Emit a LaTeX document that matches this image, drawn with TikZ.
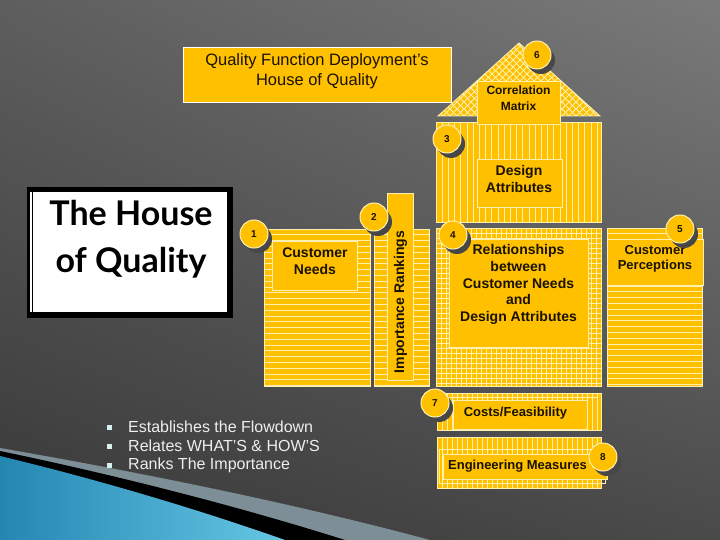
\documentclass[tikz,border=0pt]{standalone}
\usepackage{fontspec}
\setmainfont{Liberation Sans}
\newfontfamily\hqfont{Lato}
\usetikzlibrary{shadings}
\definecolor{qyel}{HTML}{FFC000}
\definecolor{qline}{HTML}{FFF0B0}
\definecolor{qtxt}{HTML}{1A1200}
\definecolor{bgUL}{HTML}{5E5E5E}
\definecolor{bgUR}{HTML}{7A7A7A}
\definecolor{bgLL}{HTML}{383838}
\definecolor{bgLR}{HTML}{4A4A4A}
\definecolor{swA}{HTML}{2387B2}
\definecolor{swB}{HTML}{66C6E4}
\definecolor{swG}{HTML}{7D8E96}
\definecolor{bultxt}{HTML}{EEEEEE}
\newcommand\qhstr[5]{%
  \fill[qyel] (#1,#2) rectangle (#3,#4);
  \begin{scope}\clip (#1,#2) rectangle (#3,#4);
    \foreach \k in {1,...,40}{\draw[stl] (#1,{#2+\k*#5}) -- (#3,{#2+\k*#5});}
  \end{scope}
  \draw[stl] (#1,#2) rectangle (#3,#4);}
\newcommand\qvstr[5]{%
  \fill[qyel] (#1,#2) rectangle (#3,#4);
  \begin{scope}\clip (#1,#2) rectangle (#3,#4);
    \foreach \k in {1,...,40}{\draw[stl] ({#1+\k*#5},#2) -- ({#1+\k*#5},#4);}
  \end{scope}
  \draw[stl] (#1,#2) rectangle (#3,#4);}
\newcommand\qnum[4]{%
  \node[shd] (#1s) at ({#2+4},{#3+5}) {};
  \node[numc] (#1) at (#2,#3) {#4};}
\begin{document}
\begin{tikzpicture}[x=1pt,y=-1pt,
  stl/.style={draw=qline,line width=0.7pt},
  yelbox/.style={fill=qyel,draw=qline,line width=0.8pt,inner sep=0},
  lbl/.style={font=\fontsize{14}{17}\selectfont\bfseries,text=qtxt,align=center,inner sep=0},
  numc/.style={circle,fill=qyel,draw=qline,line width=1pt,minimum size=28pt,inner sep=0,font=\fontsize{10}{10}\selectfont\bfseries,text=qtxt},
  shd/.style={circle,fill=black!72,minimum size=28pt,inner sep=0},
]
\useasboundingbox (0,0) rectangle (720,540);
% background
\shade[upper left=bgUL,upper right=bgUR,lower left=bgLL,lower right=bgLR] (0,0) rectangle (720,540);
% swoosh
\fill[swG] (0,448) .. controls (150,474) and (300,505) .. (430,540) -- (0,540) -- cycle;
\fill[black] (0,451) .. controls (130,478) and (250,510) .. (345,540) -- (0,540) -- cycle;
\shade[left color=swA,right color=swB] (0,456) .. controls (100,480) and (200,510) .. (285,540) -- (0,540) -- cycle;
% title
\node[fill=qyel,draw=white,line width=1pt,minimum width=268pt,minimum height=55pt,anchor=north west] (tbox) at (183,47) {};
\node[font=\fontsize{16.5}{20}\selectfont,text=qtxt,align=center] (ttl) at (317,71) {Quality Function Deployment’s\\House of Quality};
% house of quality box
\fill[black] (27,187) rectangle (233,318);
\fill[white] (30,192) rectangle (227,312);
\draw[black,line width=0.8pt] (32.5,192) -- (32.5,312);
\node[font=\hqfont\bfseries\fontsize{34}{47}\selectfont,align=center,text=black] (hq) at (131,239) {The House\\of Quality};
% bullets
\foreach \yy/\tt [count=\i] in {427/Establishes the Flowdown,446/Relates WHAT'S \& HOW'S,465/Ranks The Importance}{
  \fill[bultxt!90!cyan] (107,{\yy-2.5}) rectangle (112,{\yy+2.5});
  \node[anchor=west,font=\fontsize{16}{19}\selectfont,text=bultxt,inner sep=0] (b\i) at (128,\yy) {\tt};
}
% roof
\fill[qyel] (438,116) -- (519,43) -- (600,116) -- cycle;
\begin{scope}
  \clip (438,116) -- (519,43) -- (600,116) -- cycle;
  \foreach \k in {0,...,54}{
    \draw[stl,line width=0.8pt] ({338+\k*7},116) -- ++(100,-100);
    \draw[stl,line width=0.8pt] ({338+\k*7},116) -- ++(-100,-100);
  }
\end{scope}
\draw[stl,line width=0.9pt] (438,116) -- (519,43) -- (600,116) -- cycle;
% design attributes stripes
\qvstr{436}{122}{601}{222}{6.2}
% customer needs
\qhstr{264}{229}{370}{386}{5.8}
\qhstr{374}{229}{429}{386}{5.8}
\node[yelbox,minimum width=26pt,minimum height=187pt,anchor=north west] (imp) at (387,193) {};
% relationships grid
\fill[qyel] (436,228) rectangle (601,386);
\begin{scope}\clip (436,228) rectangle (601,386);
  \foreach \k in {1,...,40}{
    \draw[stl,line width=0.6pt] (436,{228+\k*5}) -- (601,{228+\k*5});
    \draw[stl,line width=0.6pt] ({436+\k*5},228) -- ({436+\k*5},386);
  }
\end{scope}
\draw[stl] (436,228) rectangle (601,386);
% customer perceptions
\qhstr{607}{228}{702}{386}{5.8}
% costs and engineering
\qvstr{437}{393}{601}{430}{5}
\qvstr{437}{437}{601}{488}{5}
\draw[stl] (447,397) rectangle (597,430);
\draw[stl] (439,449) rectangle (605,483);
% label boxes
\node[yelbox,minimum width=83pt,minimum height=43pt,anchor=north west] (cmb) at (477,81) {};
\node[yelbox,minimum width=85pt,minimum height=48pt,anchor=north west] (dab) at (477,159) {};
\node[yelbox,minimum width=85pt,minimum height=49pt,anchor=north west] (cnb) at (272,241) {};
\node[yelbox,minimum width=139pt,minimum height=108pt,anchor=north west] (rlb) at (449,239) {};
\node[yelbox,minimum width=96pt,minimum height=46pt,anchor=north west] (cpb) at (607,239) {};
\node[yelbox,minimum width=134pt,minimum height=29pt,anchor=north west] (cfb) at (453,400) {};
\node[yelbox,minimum width=164pt,minimum height=25pt,anchor=north west] (emb) at (443,454) {};
% label texts
\node[lbl,font=\fontsize{12}{16}\selectfont\bfseries] (cmt) at (518.5,98) {Correlation\\Matrix};
\node[lbl] (dat) at (519,179) {Design\\Attributes};
\node[lbl] (cnt) at (315,261.5) {Customer\\Needs};
\node[lbl,font=\fontsize{14}{16.75}\selectfont\bfseries] (rlt) at (518.5,284.5) {Relationships\\between\\Customer Needs\\and\\Design Attributes};
\node[lbl,font=\fontsize{13}{15}\selectfont\bfseries] (cpt) at (655,258.5) {Customer\\Perceptions};
\node[lbl,rotate=90] (impt) at (400.5,302) {Importance Rankings};
\node[lbl,font=\fontsize{13}{15}\selectfont\bfseries] (cft) at (515.5,413) {Costs/Feasibility};
\node[lbl,font=\fontsize{13}{15}\selectfont\bfseries] (emt) at (517.5,466) {Engineering Measures};
% numbered circles
\qnum{n6}{537}{55}{6}
\qnum{n3}{447}{139}{3}
\qnum{n2}{374}{217}{2}
\qnum{n1}{254}{234}{1}
\qnum{n4}{453}{235}{4}
\qnum{n5}{680}{229}{5}
\qnum{n7}{435}{403}{7}
\qnum{n8}{603}{457}{8}
\end{tikzpicture}
\end{document}
